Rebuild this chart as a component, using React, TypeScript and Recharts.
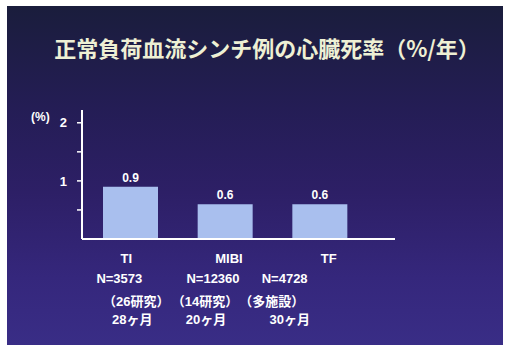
import { BarChart, Bar, XAxis, YAxis, LabelList } from "recharts";

const methods = ["TI", "MIBI", "TF"];
const rates = [0.9, 0.6, 0.6];
const patients = ["N=3573", "N=12360", "N=4728"];
const sources = ["（26研究）", "（14研究）", "（多施設）"];
const followUp = ["28ヶ月", "20ヶ月", "30ヶ月"];
const yTicks = [0.5, 1, 1.5, 2];

// slide text sits a bit off the bar centres
const nameDx = [-4, 4, 9];
const nDx = [-11, -12, -35];
const srcDx = [6, -20, -48];
const monthDx = [2, -19, -30];

const data = methods.map((m, i) => ({ name: m, rate: rates[i] }));

const FONT = "'Liberation Sans', 'Noto Sans CJK JP', sans-serif";

function CategoryTick(props: any) {
  const { x, y, index } = props;
  const i = index as number;
  const style = { fill: "#ffffff", fontSize: 13, fontWeight: 700, fontFamily: FONT };
  return (
    <g>
      <text x={x + nameDx[i]} y={y + 16} textAnchor="middle" {...style}>{methods[i]}</text>
      <text x={x + nDx[i]} y={y + 36} textAnchor="middle" {...style}>{patients[i]}</text>
      <text x={x + srcDx[i]} y={y + 59} textAnchor="middle" {...style}>{sources[i]}</text>
      <text x={x + monthDx[i]} y={y + 77} textAnchor="middle" {...style}>{followUp[i]}</text>
    </g>
  );
}

export default function App() {
  return (
    <div style={{ position: "relative", width: 506, height: 345, background: "#ffffff", overflow: "hidden" }}>
      <style>{"body{margin:0}"}</style>
      <div
        style={{
          position: "absolute",
          left: 7,
          top: 6,
          width: 496,
          height: 339,
          background: "linear-gradient(180deg, #1a1d3c 0%, #241d55 30%, #2d1f66 55%, #35277c 80%, #392d86 100%)",
        }}
      />
      <div
        style={{
          position: "absolute",
          left: 0,
          top: 33,
          width: 534,
          textAlign: "center",
          color: "#eef0d4",
          fontSize: 22,
          fontWeight: 700,
          fontFamily: "'Noto Sans CJK JP', sans-serif",
          lineHeight: "28px",
        }}
      >
        正常負荷血流シンチ例の心臓死率（%/年）
      </div>
      <div
        style={{
          position: "absolute",
          left: 31,
          top: 110,
          color: "#ffffff",
          fontSize: 12,
          fontWeight: 700,
          fontFamily: FONT,
        }}
      >
        (%)
      </div>
      <div style={{ position: "absolute", left: 0, top: 0 }}>
        <BarChart width={506} height={345} data={data} margin={{ top: 110, right: 111, bottom: 76, left: 0 }}>
          <XAxis
            dataKey="name"
            axisLine={{ stroke: "#ffffff", strokeWidth: 2 }}
            tickLine={false}
            padding={{ left: 1, right: 28 }}
            tick={<CategoryTick />}
            interval={0}
          />
          <YAxis
            type="number"
            domain={[0, 2.22]}
            ticks={yTicks}
            width={82}
            axisLine={{ stroke: "#ffffff", strokeWidth: 2 }}
            tickLine={{ stroke: "#ffffff", strokeWidth: 1.5 }}
            tickSize={5}
            tickMargin={10}
            tickFormatter={(v: number) => (Number.isInteger(v) ? String(v) : "")}
            tick={{ fill: "#ffffff", fontSize: 13, fontWeight: 700, fontFamily: FONT }}
          />
          <Bar dataKey="rate" fill="#a9bfee" barSize={55} isAnimationActive={false}>
            <LabelList
              dataKey="rate"
              position="top"
              offset={5}
              fill="#ffffff"
              fontSize={12}
              fontWeight={700}
              fontFamily={FONT}
            />
          </Bar>
        </BarChart>
      </div>
    </div>
  );
}
